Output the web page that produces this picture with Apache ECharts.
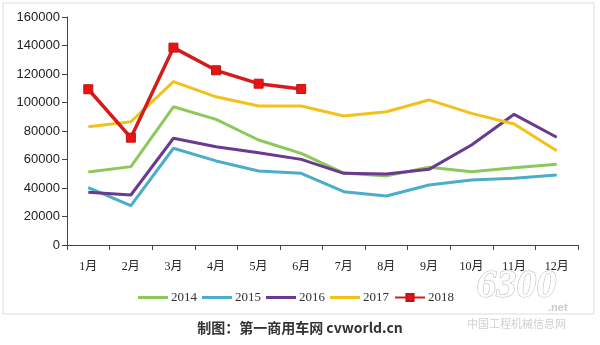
<!DOCTYPE html>
<html><head><meta charset="utf-8">
<script src="https://cdn.jsdelivr.net/npm/echarts@6/dist/echarts.min.js"></script>
<style>html,body{margin:0;padding:0;background:#fff}#c{width:600px;height:345px}</style>
</head><body><div id="c"></div>
<script>
const months = ['1月','2月','3月','4月','5月','6月','7月','8月','9月','10月','11月','12月'];
const yTicks = [0,20000,40000,60000,80000,100000,120000,140000,160000];
const s2014 = [51200,55000,97000,88200,73700,64300,50500,48500,54500,51400,54200,56600];
const s2015 = [40200,27600,67900,59000,51900,50300,37400,34400,42100,45600,46800,49100];
const s2016 = [37000,35100,74900,69000,64800,60100,50300,49800,53100,70200,91700,75600];
const s2017 = [83000,86500,114600,104000,97500,97500,90500,93500,101800,92400,84900,66200];
const s2018 = [109300,75300,138500,122600,113200,109500];
const names = ['2014','2015','2016','2017','2018'];
const colors = ['#8cc85a','#4aaec8','#6a3a8e','#f2c21a','#d41c1c'];

const chart = echarts.init(document.getElementById('c'));
const lineSeries = [s2014,s2015,s2016,s2017].map((d,i)=>({
  name: names[i], type:'line', data:d, symbol:'none', smooth:false,
  lineStyle:{width:3,color:colors[i]}, itemStyle:{color:colors[i]}, z:2+i
}));
lineSeries.push({
  name:'2018', type:'line', data:s2018, symbol:'rect', symbolSize:9,
  lineStyle:{width:3.5,color:colors[4]},
  itemStyle:{color:'#ee1111',borderColor:'#b81818',borderWidth:1}, z:10
});
const lineIcon = 'path://M0,0 L30,0 L30,3 L0,3 Z';
chart.setOption({
  animation:false,
  backgroundColor:'#fff',
  graphic:[
    {type:'rect',shape:{x:3,y:3,width:591,height:311},style:{fill:'none',stroke:'#dcdcdc',lineWidth:1},z:-1},
    {type:'text',left:'center',top:321,style:{text:'制图：第一商用车网 cvworld.cn',font:'bold 14px "Noto Sans CJK SC", sans-serif',fill:'#333'}},
    {type:'text',left:476,top:266,style:{text:'6300',font:'italic bold 40px "Liberation Serif", serif',fill:'rgba(255,255,255,0.9)',stroke:'rgba(170,170,170,0.8)',lineWidth:1},z:100},
    {type:'text',left:548,top:302,style:{text:'.net',font:'bold 11px "Liberation Sans", sans-serif',fill:'rgba(190,190,190,0.8)'},z:100},
    {type:'text',left:467,top:318,style:{text:'中国工程机械信息网',font:'11px "Noto Sans CJK SC", sans-serif',fill:'rgba(200,200,200,0.85)'},z:100}
  ],
  legend:{
    data:[
      {name:'2014',icon:lineIcon},{name:'2015',icon:lineIcon},
      {name:'2016',icon:lineIcon},{name:'2017',icon:lineIcon},{name:'2018'}
    ],
    left:133, top:286, itemWidth:30, itemHeight:9, itemGap:5,
    textStyle:{fontFamily:'"Liberation Serif","Noto Sans CJK SC",serif',fontSize:13,color:'#333',padding:[0,0,0,-2]}
  },
  grid:{left:67,right:22,top:17,bottom:100},
  xAxis:{
    type:'category', data:months, boundaryGap:true,
    axisLine:{lineStyle:{color:'#444',width:1}},
    axisTick:{show:true,length:5,lineStyle:{color:'#444'}},
    axisLabel:{margin:16,fontSize:12,color:'#222',fontFamily:'"Liberation Serif","Noto Sans CJK SC",serif'}
  },
  yAxis:{
    type:'value', min:yTicks[0], max:yTicks[yTicks.length-1], interval:20000,
    axisLine:{show:true,lineStyle:{color:'#444',width:1}},
    axisTick:{show:true,length:5,inside:false,lineStyle:{color:'#444'}},
    splitLine:{show:false},
    axisLabel:{margin:7,fontSize:13,color:'#222',fontFamily:'"Liberation Sans",Arial,sans-serif',formatter:v=>String(v)}
  },
  series:lineSeries
});
</script></body></html>
